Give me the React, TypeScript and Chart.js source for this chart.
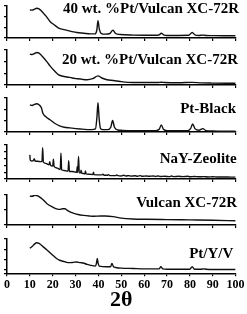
import React, { useEffect, useRef } from 'react';
import { Chart, registerables } from 'chart.js';

Chart.register(...registerables);

// ---------------- data ----------------
const sampleNames = [
  '40 wt. %Pt/Vulcan XC-72R',
  '20 wt. %Pt/Vulcan XC-72R',
  'Pt-Black',
  'NaY-Zeolite',
  'Vulcan XC-72R',
  'Pt/Y/V',
];

const xAxisTitle = '2θ';
const xMin = 0;
const xMax = 100;
const xStep = 10;

// [2θ, relative intensity 0..100] for each pattern
const pt40Vulcan: [number, number][] = [
  [10, 88], [11, 87], [12, 90], [13, 93], [14, 91], [15, 85], [16, 77], [17, 69], [18.9, 51],
  [20.5, 42], [22.6, 31], [24.5, 27], [26.3, 24], [28.5, 20], [30.6, 17], [33.5, 15], [36.4, 13],
  [38.5, 13], [39.3, 25], [39.8, 54], [40.4, 27], [41.3, 14], [43, 12], [45, 14], [46.3, 24],
  [47.5, 14], [49.5, 11], [55.3, 9], [60, 8.5], [65, 8.5], [66.6, 10], [67.5, 15], [68.5, 10],
  [69.8, 8], [75, 8], [79.5, 8.5], [81, 17], [82.4, 9], [84, 8], [85.7, 9], [87, 8], [90, 7.5],
  [95, 7], [100, 7],
];

const pt20Vulcan: [number, number][] = [
  [10, 88], [11, 87], [12, 90], [13.1, 93], [14, 91], [16, 78], [17.5, 66], [18.9, 54], [20.8, 40],
  [22.6, 29], [24.5, 25], [26.3, 23], [28.5, 20], [30.6, 18], [33, 16], [35, 15], [37.5, 18],
  [39.8, 26], [41.5, 20], [43.7, 15], [46.5, 13], [49.5, 10], [55, 7], [60, 7], [66, 7], [67.5, 8],
  [69, 7], [75, 6.5], [81, 7.5], [85, 6], [90, 5.5], [100, 5],
];

const ptBlack: [number, number][] = [
  [10, 80], [11, 78], [12, 81], [13, 83], [14, 80], [15, 72], [15.7, 55], [17, 45], [18.8, 36],
  [21, 25], [23, 18], [25, 14], [27.5, 12], [32, 9], [37, 7], [38.7, 9], [39.3, 40], [39.8, 86],
  [40.3, 40], [40.9, 10], [42, 7], [44, 7], [45.4, 14], [46.2, 34], [47, 14], [48.5, 6], [50, 5],
  [55, 4], [60, 4], [65, 4], [66.6, 8], [67.5, 21], [68.4, 8], [70, 4], [75, 4], [79, 4],
  [80.3, 10], [81.2, 24], [82.2, 10], [84, 5], [85.7, 10], [87, 4], [90, 3], [95, 2], [100, 2],
];

const nayZeolite: [number, number][] = [
  [10, 71], [10.15, 56], [10.8, 53], [11.5, 54], [11.9, 60], [12.3, 53], [13.5, 52], [14.5, 51],
  [15.3, 51], [15.6, 92], [15.9, 50], [17, 46], [18.4, 42], [18.7, 51], [19, 41], [20, 38],
  [20.3, 58], [20.6, 37], [22, 32], [23.3, 28], [23.6, 76], [23.9, 27], [25, 25], [26.7, 23],
  [27.0, 54], [27.3, 22], [28.5, 22], [29.5, 21], [30.5, 20], [30.7, 36], [30.95, 19], [31.3, 66],
  [31.6, 18], [32.2, 18], [32.4, 26], [32.7, 17], [33.5, 16], [34.1, 15], [34.3, 24], [34.6, 15],
  [36, 14], [37.6, 13], [37.8, 20], [38.1, 13], [40, 12], [41.5, 12], [42, 14], [42.5, 11],
  [44, 11], [44.3, 13], [45, 10], [47.5, 10], [48, 12], [48.5, 10], [50, 9], [51, 11], [52, 9],
  [53.5, 10], [54, 8.5], [56, 9.5], [57, 8], [58.5, 10], [59, 8], [61, 9], [62, 8], [64, 9],
  [65, 7.5], [66, 9], [67, 7.5], [69, 8], [71, 7], [72, 9], [73, 7], [75, 8], [77, 7], [79, 8],
  [80, 6.5], [82, 7.5], [84, 6.5], [86, 7], [88, 6], [90, 6.5], [92, 6], [95, 6], [98, 5.5],
  [100, 5.5],
];

const vulcanXC72R: [number, number][] = [
  [10, 96], [11, 96], [12.2, 99], [13.5, 97], [15, 89], [15.9, 83], [17.5, 71], [20.2, 59],
  [21.7, 54], [23.1, 52], [24.2, 54], [25.3, 54], [26.4, 49], [27.5, 44], [29.3, 39], [31.1, 35],
  [33.5, 32], [36, 30], [38, 29], [41, 30], [43, 30], [46.4, 28], [50, 23], [55, 20], [61, 19],
  [70, 18], [80, 17], [90, 16], [100, 14],
];

const ptYV: [number, number][] = [
  [10, 73], [11, 78], [12, 85], [13, 89], [14, 87], [15.9, 77], [17.5, 68], [18.8, 60], [20.3, 51],
  [21.7, 43], [23, 38], [24.6, 35], [26, 32], [27.5, 31], [29, 32], [30.4, 33], [32, 31],
  [33.3, 30], [35, 26], [36.2, 24], [38.7, 21], [39.1, 28], [39.5, 43], [39.9, 28], [40.4, 21],
  [43.5, 19], [45.3, 19], [45.9, 29], [46.6, 19], [47.5, 17], [50, 15], [55.2, 14], [60, 13],
  [65, 13], [66.5, 13], [67.3, 19], [68.2, 13], [70, 12], [75, 12], [80, 12], [81, 19], [82, 12],
  [85, 12], [86, 13], [87, 12], [90, 11], [100, 11],
];

const seriesList = [pt40Vulcan, pt20Vulcan, ptBlack, nayZeolite, vulcanXC72R, ptYV];

// y tick marks (no labels) per panel
const yTicks1 = [0, 33, 67, 100];
const yTicks2 = [0, 33, 67, 100];
const yTicks3 = [0, 33, 67, 100];
const yTicks4 = [0, 20, 40, 60, 80, 100];
const yTicks5 = [0, 50, 100];
const yTicks6 = [0, 10, 40, 70, 100];
const yTickList = [yTicks1, yTicks2, yTicks3, yTicks4, yTicks5, yTicks6];

// ---------------- layout (page pixels) ----------------
const W = 247;
const H = 314;
const PLOT_LEFT = 7;
const PLOT_RIGHT = 235.6;
const TOP_EXTRA = 6;
const panelLayout = [
  { plotTop: 6, plotBottom: 38.3, labelBaseline: 13.3, labelRight: 239 },
  { plotTop: 50, plotBottom: 85, labelBaseline: 64, labelRight: 238 },
  { plotTop: 98, plotBottom: 132.3, labelBaseline: 112.5, labelRight: 236 },
  { plotTop: 145, plotBottom: 179, labelBaseline: 163, labelRight: 236.7 },
  { plotTop: 195, plotBottom: 225, labelBaseline: 206.5, labelRight: 237 },
  { plotTop: 239, plotBottom: 273.3, labelBaseline: 258, labelRight: 233.3 },
];

const SERIF = "'Liberation Serif', 'Times New Roman', serif";

const panelLabelPlugin = {
  id: 'panelLabel',
  afterDraw(chart: any, _args: any, opts: any) {
    const ctx = chart.ctx;
    ctx.save();
    ctx.font = `bold 15px ${SERIF}`;
    ctx.fillStyle = '#000';
    ctx.textAlign = 'right';
    ctx.textBaseline = 'alphabetic';
    ctx.fillText(opts.text, opts.x, opts.y);
    ctx.restore();
  },
};

function Panel({ idx }: { idx: number }) {
  const ref = useRef<HTMLCanvasElement>(null);
  const L = panelLayout[idx];
  const isLast = idx === seriesList.length - 1;
  const canvasTop = L.plotTop - TOP_EXTRA;
  const canvasH = isLast ? H - canvasTop : L.plotBottom + 5 - canvasTop;
  const xBoxH = isLast ? canvasH - (L.plotBottom - canvasTop) : 4;
  const padBottom = isLast ? 0 : 1;

  useEffect(() => {
    const data = seriesList[idx].map(([x, y]) => ({ x, y }));
    const ticksY = yTickList[idx];
    const chart = new Chart(ref.current as HTMLCanvasElement, {
      type: 'line',
      data: {
        datasets: [
          {
            label: sampleNames[idx],
            data,
            borderColor: '#111',
            borderWidth: 1.4,
            pointRadius: 0,
            fill: false,
            cubicInterpolationMode: 'monotone',
          },
        ],
      },
      options: {
        animation: false,
        responsive: false,
        devicePixelRatio: 1,
        layout: {
          padding: {
            left: PLOT_LEFT - 3,
            right: W - PLOT_RIGHT,
            top: TOP_EXTRA,
            bottom: padBottom,
          },
        },
        plugins: {
          legend: { display: false },
          tooltip: { enabled: false },
          title: { display: false },
          panelLabel: {
            text: sampleNames[idx],
            x: L.labelRight,
            y: L.labelBaseline - canvasTop,
          },
        } as any,
        scales: {
          x: {
            type: 'linear',
            min: xMin,
            max: xMax,
            ticks: {
              display: isLast,
              stepSize: xStep,
              autoSkip: false,
              maxRotation: 0,
              padding: 1,
              color: '#000',
              font: { family: SERIF, size: 12, weight: 'bold' },
            },
            grid: {
              drawOnChartArea: false,
              drawTicks: true,
              tickLength: 3,
              color: '#000',
              lineWidth: 1.2,
            },
            border: { display: true, color: '#000', width: 1.5 },
            title: {
              display: isLast,
              text: xAxisTitle,
              color: '#000',
              font: { family: SERIF, size: 22, weight: 'bold', lineHeight: 1.2 },
              padding: { top: 0, bottom: 0 },
            },
            afterFit: (scale: any) => {
              scale.height = xBoxH;
            },
          },
          y: {
            type: 'linear',
            min: 0,
            max: 100,
            ticks: { display: false },
            afterBuildTicks: (scale: any) => {
              scale.ticks = ticksY.map((v) => ({ value: v }));
            },
            grid: {
              drawOnChartArea: false,
              drawTicks: true,
              tickLength: 3,
              color: '#000',
              lineWidth: 1.2,
            },
            border: { display: true, color: '#000', width: 1.5 },
            afterFit: (scale: any) => {
              scale.width = 3;
            },
          },
        },
      },
      plugins: [panelLabelPlugin as any],
    } as any);
    return () => chart.destroy();
  }, [idx]);

  return (
    <canvas
      ref={ref}
      width={W}
      height={canvasH}
      style={{ position: 'absolute', left: 0, top: canvasTop, width: W, height: canvasH, display: 'block' }}
    />
  );
}

export default function App() {
  return (
    <div style={{ position: 'absolute', left: 0, top: 0, width: W, height: H, background: '#fff', overflow: 'hidden' }}>
      {seriesList.map((_, i) => (
        <Panel key={i} idx={i} />
      ))}
    </div>
  );
}
